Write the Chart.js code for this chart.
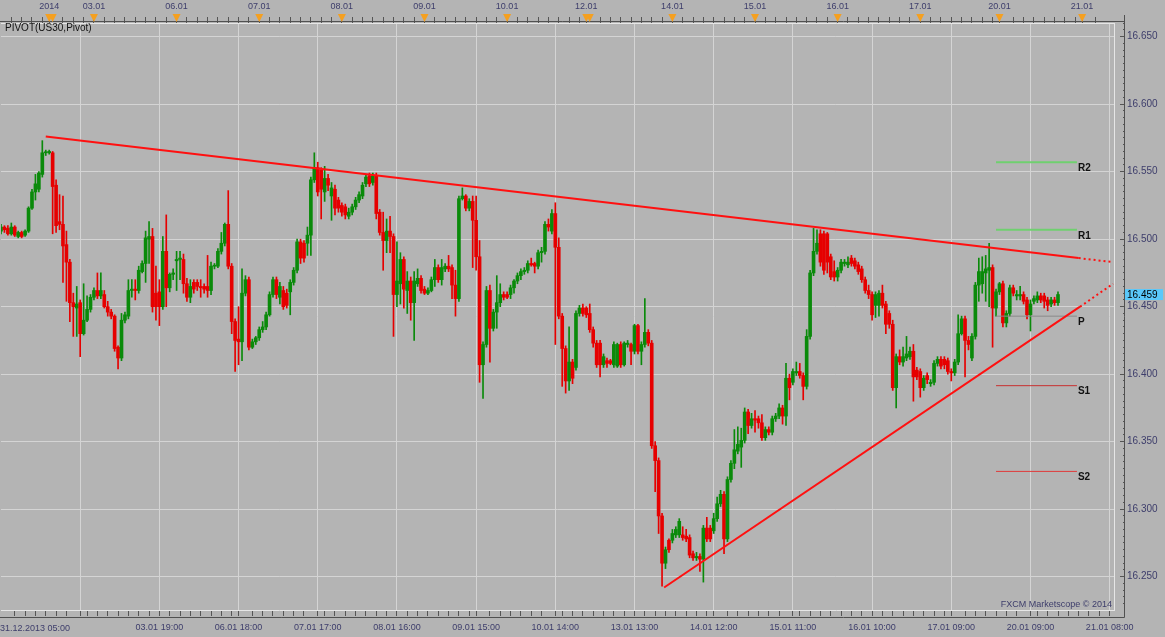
<!DOCTYPE html>
<html>
<head>
<meta charset="utf-8">
<title>US30 hourly</title>
<script src="https://cdn.jsdelivr.net/npm/chart.js@4.4.0/dist/chart.umd.min.js"></script>
<style>
  html, body { margin: 0; padding: 0; background: #b4b4b4; }
  #wrap { width: 1165px; height: 637px; }
</style>
</head>
<body>
<div id="wrap"><canvas id="chart" width="1165" height="637"></canvas></div>
<script>
// hourly candles, index 0 = 31.12.2013 05:00
const opens = [
  16506,16509,16508,16504,16509,16502,16505,16503,16506,16523,
  16535,16537,16548,16564,16564,16564,16540,16513,16511,16496,
  16483,16453,16449,16453,16430,16440,16448,16457,16462,16458,
  16459,16450,16446,16443,16420,16412,16440,16443,16462,16463,
  16462,16476,16482,16500,16502,16460,16461,16450,16491,16464,
  16474,16484,16485,16485,16467,16457,16468,16468,16465,16465,
  16465,16462,16480,16480,16491,16497,16511,16480,16439,16426,
  16424,16460,16470,16420,16424,16427,16433,16435,16444,16459,
  16470,16457,16462,16460,16461,16468,16477,16498,16497,16497,
  16503,16544,16553,16551,16535,16545,16532,16537,16529,16525,
  16524,16517,16520,16524,16529,16532,16541,16547,16542,16547,
  16520,16505,16499,16506,16502,16459,16467,16485,16462,16469,
  16453,16467,16471,16463,16460,16462,16470,16479,16470,16478,
  16480,16479,16466,16456,16530,16532,16523,16528,16514,16487,
  16407,16422,16462,16434,16446,16453,16459,16459,16459,16464,
  16469,16473,16476,16477,16482,16482,16480,16490,16491,16511,
  16506,16519,16494,16443,16419,16395,16409,16405,16445,16449,
  16449,16445,16433,16423,16423,16407,16410,16410,16407,16406,
  16422,16407,16422,16422,16417,16436,16417,16422,16431,16423,
  16347,16336,16295,16260,16277,16277,16281,16281,16281,16280,
  16279,16267,16264,16265,16263,16286,16286,16284,16293,16304,
  16311,16278,16322,16334,16343,16346,16351,16372,16362,16367,
  16367,16364,16353,16359,16357,16367,16369,16375,16369,16397,
  16394,16401,16402,16399,16391,16428,16475,16491,16504,16504,
  16504,16487,16476,16472,16477,16482,16481,16486,16484,16481,
  16478,16470,16462,16459,16451,16451,16460,16452,16445,16437,
  16390,16413,16409,16412,16413,16417,16403,16402,16390,16399,
  16393,16394,16408,16411,16411,16410,16402,16401,16409,16430,
  16441,16425,16412,16428,16466,16467,16475,16477,16479,16449,
  16461,16467,16438,16445,16464,16458,16458,16459,16455,16444,
  16454,16455,16458,16458,16455,16452,16455,16453
];
const highs = [
  16511,16510,16510,16512,16510,16506,16506,16507,16524,16537,
  16548,16550,16573,16566,16566,16565,16544,16533,16532,16506,
  16485,16460,16465,16455,16467,16458,16459,16464,16475,16475,
  16462,16454,16448,16444,16421,16445,16446,16470,16470,16470,
  16480,16484,16506,16513,16508,16480,16470,16502,16518,16475,
  16478,16491,16491,16489,16471,16470,16470,16470,16470,16467,
  16488,16483,16482,16493,16505,16512,16536,16482,16441,16450,
  16478,16473,16472,16426,16428,16435,16439,16446,16461,16472,
  16472,16468,16465,16463,16470,16479,16500,16500,16499,16509,
  16546,16564,16557,16553,16554,16548,16542,16540,16531,16527,
  16526,16523,16526,16531,16535,16542,16548,16549,16549,16549,
  16522,16520,16515,16517,16504,16498,16490,16487,16476,16472,
  16476,16478,16473,16465,16464,16472,16485,16481,16485,16482,
  16488,16481,16477,16532,16538,16533,16530,16532,16532,16499,
  16424,16465,16466,16448,16473,16467,16461,16461,16466,16470,
  16475,16478,16479,16484,16486,16483,16492,16494,16513,16515,
  16522,16527,16501,16445,16421,16435,16411,16447,16451,16452,
  16450,16452,16435,16425,16425,16415,16412,16411,16424,16423,
  16424,16424,16425,16423,16437,16437,16424,16456,16433,16425,
  16350,16338,16297,16272,16278,16285,16287,16293,16287,16285,
  16281,16269,16268,16267,16288,16294,16288,16297,16309,16314,
  16313,16324,16336,16359,16361,16360,16375,16374,16371,16373,
  16369,16370,16361,16361,16369,16371,16378,16377,16408,16400,
  16404,16409,16408,16401,16433,16477,16508,16507,16507,16506,
  16505,16489,16484,16479,16485,16485,16487,16488,16486,16483,
  16480,16472,16466,16461,16461,16462,16466,16454,16447,16440,
  16415,16418,16420,16428,16420,16422,16405,16404,16399,16401,
  16396,16410,16413,16413,16413,16412,16404,16411,16444,16443,
  16443,16428,16430,16468,16486,16487,16488,16497,16481,16463,
  16468,16469,16447,16466,16466,16462,16465,16461,16457,16455,
  16458,16461,16460,16460,16457,16457,16457,16461
];
const lows = [
  16504,16505,16503,16503,16502,16501,16501,16502,16505,16522,
  16529,16535,16546,16562,16563,16504,16505,16507,16468,16454,
  16439,16428,16428,16413,16429,16439,16446,16455,16456,16456,
  16449,16443,16441,16417,16404,16410,16438,16441,16457,16455,
  16460,16475,16468,16482,16446,16440,16436,16448,16450,16461,
  16470,16462,16470,16460,16454,16453,16460,16462,16457,16460,
  16457,16459,16478,16479,16489,16495,16478,16430,16402,16407,
  16410,16458,16418,16419,16422,16425,16431,16433,16443,16457,
  16456,16452,16448,16449,16444,16466,16475,16482,16483,16488,
  16488,16542,16532,16515,16528,16536,16514,16518,16520,16517,
  16515,16515,16518,16522,16527,16530,16539,16539,16540,16515,
  16503,16477,16490,16490,16428,16450,16452,16449,16445,16440,
  16425,16465,16460,16459,16459,16461,16465,16468,16466,16476,
  16476,16456,16443,16454,16529,16521,16521,16479,16477,16394,
  16382,16420,16409,16432,16434,16450,16455,16456,16456,16460,
  16467,16470,16474,16475,16480,16475,16478,16483,16489,16506,
  16504,16422,16441,16391,16386,16388,16393,16403,16443,16443,
  16442,16431,16420,16405,16398,16405,16405,16407,16405,16405,
  16405,16406,16420,16407,16415,16415,16407,16420,16421,16345,
  16313,16282,16243,16256,16268,16275,16279,16279,16277,16276,
  16264,16262,16262,16254,16246,16276,16276,16282,16291,16302,
  16267,16276,16320,16330,16341,16331,16349,16356,16360,16357,
  16360,16351,16351,16355,16355,16365,16367,16363,16362,16381,
  16392,16399,16397,16381,16389,16426,16473,16489,16480,16474,
  16475,16470,16469,16469,16475,16480,16479,16480,16478,16474,
  16468,16460,16456,16440,16442,16443,16449,16430,16434,16388,
  16375,16407,16406,16410,16411,16380,16396,16383,16388,16393,
  16391,16392,16406,16404,16404,16400,16395,16399,16407,16429,
  16398,16418,16410,16426,16454,16460,16454,16450,16420,16443,
  16459,16435,16435,16443,16458,16455,16455,16452,16441,16432,
  16452,16453,16453,16449,16447,16450,16451,16451
];
const closes = [
  16509,16507,16504,16509,16503,16505,16502,16506,16523,16535,
  16541,16549,16564,16564,16565,16539,16510,16511,16495,16483,
  16453,16450,16452,16430,16440,16448,16457,16462,16458,16462,
  16450,16446,16443,16419,16412,16440,16444,16462,16463,16462,
  16477,16482,16501,16502,16450,16450,16450,16491,16464,16474,
  16475,16485,16486,16467,16457,16465,16463,16465,16464,16463,
  16462,16480,16480,16491,16497,16511,16480,16439,16425,16424,
  16460,16470,16420,16424,16427,16433,16435,16444,16459,16470,
  16459,16465,16450,16451,16468,16477,16498,16486,16486,16503,
  16544,16553,16535,16537,16545,16540,16538,16523,16523,16520,
  16518,16520,16524,16529,16533,16540,16546,16541,16547,16519,
  16505,16499,16506,16502,16459,16469,16485,16463,16469,16453,
  16469,16471,16462,16460,16462,16470,16479,16470,16479,16480,
  16478,16466,16456,16530,16532,16523,16528,16514,16487,16407,
  16422,16462,16434,16446,16453,16459,16457,16457,16464,16469,
  16473,16476,16477,16482,16481,16480,16490,16491,16511,16509,
  16519,16494,16443,16419,16395,16409,16397,16445,16449,16445,
  16444,16433,16423,16407,16407,16413,16408,16408,16422,16422,
  16407,16423,16423,16417,16436,16417,16422,16431,16423,16347,
  16336,16295,16260,16270,16270,16282,16285,16291,16279,16278,
  16266,16264,16265,16263,16286,16278,16278,16293,16304,16311,
  16278,16322,16334,16344,16348,16351,16372,16362,16367,16366,
  16364,16353,16359,16357,16367,16369,16375,16369,16397,16390,
  16402,16402,16399,16391,16428,16475,16491,16497,16483,16477,
  16483,16472,16472,16477,16483,16483,16483,16482,16480,16476,
  16470,16462,16459,16444,16459,16460,16451,16437,16437,16390,
  16413,16409,16413,16415,16417,16398,16398,16390,16397,16396,
  16394,16408,16411,16406,16407,16402,16401,16409,16430,16441,
  16425,16422,16428,16466,16476,16476,16478,16479,16449,16461,
  16467,16438,16445,16464,16460,16459,16459,16454,16444,16452,
  16456,16458,16455,16454,16451,16455,16453,16459
];

// time axis (candle index of each label)
const bottomGridIdx = [23, 46, 69, 92, 115, 138, 161, 184, 207, 230, 253, 276, 299, 322];
const bottomTickLabels = ['', '03.01 19:00', '06.01 18:00', '07.01 17:00', '08.01 16:00', '09.01 15:00',
  '10.01 14:00', '13.01 13:00', '14.01 12:00', '15.01 11:00', '16.01 10:00', '17.01 09:00',
  '20.01 09:00', '21.01 08:00'];
const firstBarLabel = '31.12.2013 05:00';
const topDayIdx = [14, 27, 51, 75, 99, 123, 147, 170, 195, 219, 243, 267, 290, 314];
const topDayLabels = ['2014', '03.01', '06.01', '07.01', '08.01', '09.01', '10.01', '12.01',
  '14.01', '15.01', '16.01', '17.01', '20.01', '21.01'];
const extraDayMarks = [15, 171];

// trend lines [index], [price]
const resistX = [13, 313, 323];
const resistY = [16576, 16486, 16483];
const supportX = [192.6, 313.4, 323];
const supportY = [16242, 16450, 16467];

// pivot levels
const pivotNames = ['R2', 'R1', 'P', 'S1', 'S2'];
const pivotLevels = [16557, 16507, 16443, 16391.5, 16328];
const pivotFrom = 289, pivotTo = 312.5;

const UP = '#0a8a0a', DOWN = '#e60000';
const pivotColors = ['#6fd06f', '#6fd06f', '#8a8a8a', '#c83030', '#e03a3a'];
const pivotWidths = [2, 2, 1, 1, 1];
const GRID = '#d4d4d4';
const TXT = '#3d3d6b';
// pixel layout of the original: bar i at 1 + 3.443*i, 16450 at y 306.7, 1.35 px per point
const BAR0_PX = 1, BAR_PX = 3.443, REF_PRICE = 16450, REF_PX = 306.7, PX_PER_PT = 1.35;

Chart.defaults.font.family = "'Liberation Sans', Arial, sans-serif";

const idx = opens.map((_, i) => i);
const candleColor = idx.map(i => closes[i] >= opens[i] ? UP : DOWN);

function withMinor(majors, step, from, to) {
  const out = majors.slice();
  for (let v = from; v <= to; v += step) {
    if (!majors.some(m => Math.abs(m - v) < 1.5)) out.push(v);
  }
  return out.sort((a, b) => a - b);
}
const bottomTicks = withMinor(bottomGridIdx, 3, 4, 319);
const topTicks = withMinor(topDayIdx, 3, 3, 318);
const yTicks = [];
for (let v = 16230; v <= 16660; v += 5) yTicks.push(v);

const datasets = [
  {
    type: 'bar', label: 'wick', order: 3, grouped: false,
    data: idx.map(i => ({ x: i, y: [lows[i], highs[i]] })),
    backgroundColor: candleColor, barThickness: 1, minBarLength: 1
  },
  {
    type: 'bar', label: 'body', order: 2, grouped: false,
    data: idx.map(i => ({ x: i, y: [opens[i], closes[i]] })),
    backgroundColor: candleColor, barThickness: 3, minBarLength: 1
  },
  {
    type: 'line', label: 'resist', order: 1,
    data: [{ x: resistX[0], y: resistY[0] }, { x: resistX[1], y: resistY[1] }],
    borderColor: '#ff1010', borderWidth: 2, pointRadius: 0
  },
  {
    type: 'line', label: 'resist ext', order: 1,
    data: [{ x: resistX[1], y: resistY[1] }, { x: resistX[2], y: resistY[2] }],
    borderColor: '#ff1010', borderWidth: 2, borderDash: [2, 3], pointRadius: 0
  },
  {
    type: 'line', label: 'support', order: 1,
    data: [{ x: supportX[0], y: supportY[0] }, { x: supportX[1], y: supportY[1] }],
    borderColor: '#ff1010', borderWidth: 2, pointRadius: 0
  },
  {
    type: 'line', label: 'support ext', order: 1,
    data: [{ x: supportX[1], y: supportY[1] }, { x: supportX[2], y: supportY[2] }],
    borderColor: '#ff1010', borderWidth: 2, borderDash: [2, 3], pointRadius: 0
  }
];
pivotLevels.forEach((lvl, k) => {
  datasets.push({
    type: 'line', label: pivotNames[k], order: 1,
    data: [{ x: pivotFrom, y: lvl }, { x: pivotTo, y: lvl }],
    borderColor: pivotColors[k], borderWidth: pivotWidths[k], pointRadius: 0
  });
});

// extra drawing: axis frame, day markers, pivot labels, captions
const decor = {
  id: 'decor',
  afterDraw(chart) {
    const { ctx, chartArea: a, scales } = chart;
    const xs = scales.x, ys = scales.y;
    ctx.save();

    ctx.strokeStyle = '#505050';
    ctx.lineWidth = 1;
    ctx.beginPath();
    ctx.moveTo(0, a.top - 1.5); ctx.lineTo(a.right + 10.5, a.top - 1.5);
    ctx.moveTo(a.right + 10.5, a.top - 8); ctx.lineTo(a.right + 10.5, a.bottom + 7.5);
    ctx.moveTo(0, a.bottom + 7.5); ctx.lineTo(a.right + 10.5, a.bottom + 7.5);
    ctx.stroke();

    ctx.fillStyle = '#f5a020';
    topDayIdx.concat(extraDayMarks).forEach(i => {
      const x = scales.x2.getPixelForValue(i);
      ctx.beginPath();
      ctx.moveTo(x - 4, a.top - 9);
      ctx.lineTo(x + 4, a.top - 9);
      ctx.lineTo(x, a.top - 1);
      ctx.closePath();
      ctx.fill();
    });

    ctx.fillStyle = '#111';
    ctx.font = "bold 10px 'Liberation Sans', Arial, sans-serif";
    ctx.textBaseline = 'middle';
    ctx.textAlign = 'left';
    pivotNames.forEach((n, k) => {
      ctx.fillText(n, xs.getPixelForValue(pivotTo) + 1, ys.getPixelForValue(pivotLevels[k]) + 6);
    });

    ctx.font = "10px 'Liberation Sans', Arial, sans-serif";
    ctx.fillText('PIVOT(US30,Pivot)', 5, a.top + 5);

    const last = closes[closes.length - 1];
    const py = ys.getPixelForValue(last);
    ctx.fillStyle = '#5ac8fa';
    ctx.fillRect(a.right + 11, py - 5.5, 38, 11);
    ctx.fillStyle = '#000';
    ctx.fillText((last / 1000).toFixed(3), a.right + 13, py + 0.5);

    ctx.fillStyle = TXT;
    ctx.font = "9px 'Liberation Sans', Arial, sans-serif";
    ctx.textAlign = 'right';
    ctx.fillText('FXCM Marketscope \u00a9 2014', a.right - 2, a.bottom - 5);
    ctx.textAlign = 'left';
    ctx.fillText(firstBarLabel, 0, a.bottom + 19);
    ctx.restore();
  }
};

const chart = new Chart(document.getElementById('chart'), {
  type: 'bar',
  data: { datasets },
  options: {
    responsive: false,
    animation: false,
    devicePixelRatio: 1,
    layout: { padding: 0 },
    plugins: { legend: { display: false }, tooltip: { enabled: false } },
    scales: {
      x: {
        type: 'linear', position: 'bottom', min: -0.29, max: 323.3, offset: false,
        afterBuildTicks: s => { s.ticks = bottomTicks.map(v => ({ value: v })); },
        afterFit: s => { s.height = 27; },
        grid: {
          offset: false,
          color: c => (c.tick && bottomGridIdx.includes(c.tick.value)) ? GRID : 'rgba(0,0,0,0)',
          tickColor: '#555', tickLength: 6
        },
        border: { color: '#e6e6e6' },
        ticks: {
          autoSkip: false, maxRotation: 0, padding: 6, color: TXT, font: { size: 9 },
          callback: v => { const k = bottomGridIdx.indexOf(v); return k >= 0 ? bottomTickLabels[k] : ''; }
        }
      },
      x2: {
        type: 'linear', position: 'top', min: -0.29, max: 323.3, offset: false,
        afterBuildTicks: s => { s.ticks = topTicks.map(v => ({ value: v })); },
        afterFit: s => { s.height = 23; },
        grid: { offset: false, drawOnChartArea: false, color: '#555', tickColor: '#555', tickLength: 6 },
        border: { color: '#e6e6e6' },
        ticks: {
          autoSkip: false, maxRotation: 0, padding: 5, color: TXT, font: { size: 9 },
          callback: v => { const k = topDayIdx.indexOf(v); return k >= 0 ? topDayLabels[k] : ''; }
        }
      },
      y: {
        type: 'linear', position: 'right', min: 16225.3, max: 16660.1,
        afterBuildTicks: s => { s.ticks = yTicks.map(v => ({ value: v })); },
        afterFit: s => { s.width = 51; },
        grid: {
          color: c => (c.tick && c.tick.value % 50 === 0) ? GRID : 'rgba(0,0,0,0)',
          tickColor: '#555', tickLength: 10,
          tickBorderDash: c => (c.tick && c.tick.value % 50 === 0) ? [0, 5, 5] : [0, 8, 2]
        },
        border: { color: '#e6e6e6' },
        ticks: {
          autoSkip: false, padding: 3, color: TXT, font: { size: 10 },
          callback: v => v % 50 === 0 ? (v / 1000).toFixed(3) : ''
        }
      }
    }
  },
  plugins: [decor]
});

// keep the original pixel scale whatever size the layout ended up with
for (let pass = 0; pass < 2; pass++) {
  const a = chart.chartArea;
  const o = chart.options.scales;
  o.x.min = o.x2.min = (a.left - BAR0_PX) / BAR_PX;
  o.x.max = o.x2.max = (a.right - BAR0_PX) / BAR_PX;
  o.y.max = REF_PRICE + (REF_PX - a.top) / PX_PER_PT;
  o.y.min = REF_PRICE + (REF_PX - a.bottom) / PX_PER_PT;
  chart.update('none');
}
</script>
</body>
</html>
